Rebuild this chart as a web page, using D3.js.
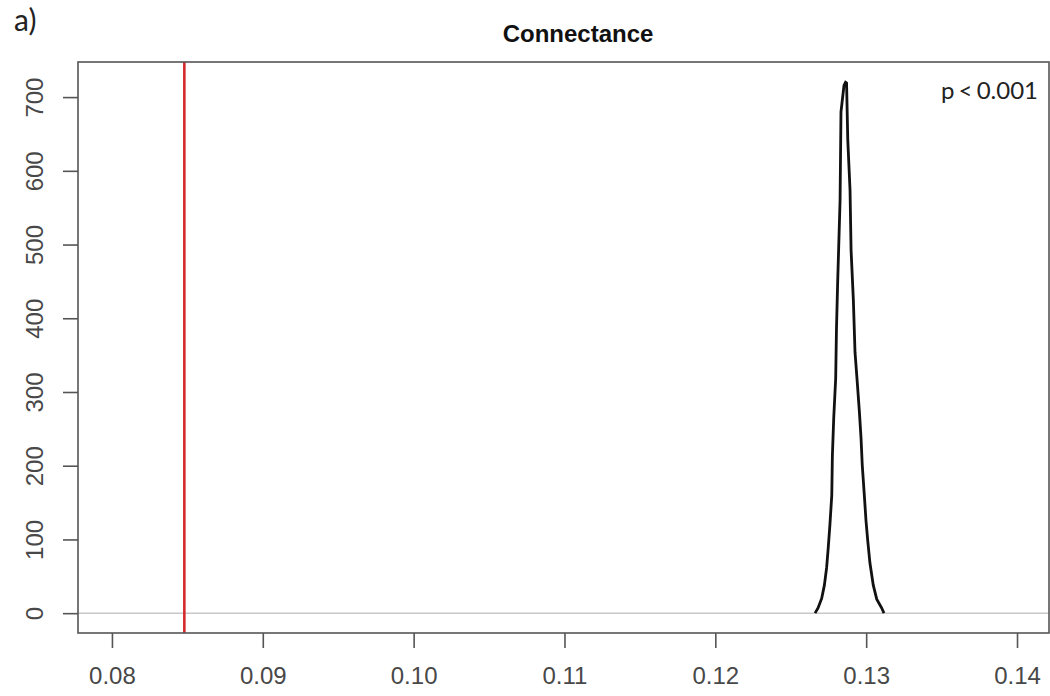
<!DOCTYPE html>
<html>
<head>
<meta charset="utf-8">
<script src="https://cdn.jsdelivr.net/npm/d3@7"></script>
<style>
  html, body { margin: 0; padding: 0; background: #fff; }
  svg { display: block; }
</style>
</head>
<body>
<svg id="chart" width="1050" height="696"></svg>
<script>
// Null distribution of connectance (density, scaled) and observed value
const nullConnectance = [
  0.12661, 0.12681, 0.12705, 0.12723, 0.12738, 0.12749, 0.12760, 0.12772,
  0.12776, 0.12785, 0.12798, 0.12803, 0.12811, 0.12827, 0.12833, 0.12853,
  0.12863, 0.12870, 0.12878, 0.12893, 0.12900, 0.12915, 0.12926, 0.12941,
  0.12955, 0.12966, 0.12974, 0.12988, 0.12999, 0.13010, 0.13025, 0.13047,
  0.13070, 0.13103, 0.13118
];
const nullDensity = [
  0, 7, 20, 38, 62, 90, 121, 160,
  214, 265, 319, 384, 449, 560, 680, 716,
  720, 719, 642, 574, 492, 425, 354, 313,
  273, 237, 201, 159, 125, 99, 68, 38,
  19, 7, 0
];
const observedConnectance = 0.0848;
const xTicks = [0.08, 0.09, 0.10, 0.11, 0.12, 0.13, 0.14];
const yTicks = [0, 100, 200, 300, 400, 500, 600, 700];
const titleText = "Connectance";
const panelLabel = "a)";
const pLabel = "p < 0.001";

const svg = d3.select("#chart");
const plot = { left: 78, right: 1049, top: 62, bottom: 633 };

const x = d3.scaleLinear()
  .domain([0.07775, 0.14212])
  .range([plot.left, plot.right]);
const y = d3.scaleLinear()
  .domain([-26.9, 747.6])
  .range([plot.bottom, plot.top]);

const axisColor = "#555";
const labelColor = "#484848";
const axisFont = "'Liberation Sans', Arial, sans-serif";

// zero reference line
svg.append("line")
  .attr("x1", plot.left).attr("x2", plot.right)
  .attr("y1", y(0)).attr("y2", y(0))
  .attr("stroke", "#c8c8c8").attr("stroke-width", 1.5);

// observed value
svg.append("line")
  .attr("x1", x(observedConnectance)).attr("x2", x(observedConnectance))
  .attr("y1", plot.top).attr("y2", plot.bottom)
  .attr("stroke", "#d42a2a").attr("stroke-width", 2.6);

// null distribution curve
const pts = nullConnectance.map((v, i) => [v, nullDensity[i]]);
svg.append("path")
  .datum(pts)
  .attr("fill", "none")
  .attr("stroke", "#111")
  .attr("stroke-width", 2.8)
  .attr("stroke-linejoin", "miter")
  .attr("d", d3.line().x(d => x(d[0])).y(d => y(d[1])));

// plot frame
svg.append("rect")
  .attr("x", plot.left).attr("y", plot.top)
  .attr("width", plot.right - plot.left).attr("height", plot.bottom - plot.top)
  .attr("fill", "none").attr("stroke", axisColor).attr("stroke-width", 1.6);

// x axis
const xAxis = d3.axisBottom(x)
  .tickValues(xTicks)
  .tickFormat(d3.format(".2f"))
  .tickSize(15)
  .tickPadding(19)
  .tickSizeOuter(0);
const gx = svg.append("g")
  .attr("transform", `translate(0,${plot.bottom})`)
  .call(xAxis);
gx.select(".domain").remove();
gx.selectAll(".tick line").attr("stroke", axisColor).attr("stroke-width", 1.6);
gx.selectAll(".tick text")
  .attr("fill", labelColor)
  .style("font-family", axisFont)
  .style("font-size", "24px");

// y axis
const yAxis = d3.axisLeft(y)
  .tickValues(yTicks)
  .tickSize(15)
  .tickSizeOuter(0);
const gy = svg.append("g")
  .attr("transform", `translate(${plot.left},0)`)
  .call(yAxis);
gy.select(".domain").remove();
gy.selectAll(".tick line").attr("stroke", axisColor).attr("stroke-width", 1.6);
gy.selectAll(".tick text")
  .attr("fill", labelColor)
  .attr("x", 0).attr("y", 0).attr("dy", 0)
  .attr("text-anchor", "middle")
  .attr("transform", "translate(-35,0) rotate(-90)")
  .style("font-family", axisFont)
  .style("font-size", "24px");

// title
svg.append("text")
  .attr("x", 578).attr("y", 42)
  .attr("text-anchor", "middle")
  .attr("fill", "#111")
  .style("font-family", axisFont)
  .style("font-weight", "bold")
  .style("font-size", "24px")
  .text(titleText);

// panel label
svg.append("text")
  .attr("x", 14).attr("y", 31)
  .attr("fill", "#222")
  .style("font-family", "Lato, 'Open Sans', sans-serif")
  .style("font-size", "30px")
  .text(panelLabel);

// significance note
svg.append("text")
  .attr("x", 1038).attr("y", 99)
  .attr("text-anchor", "end")
  .attr("fill", "#222")
  .style("font-family", "Lato, 'Open Sans', sans-serif")
  .style("font-size", "24px")
  .style("word-spacing", "-2px")
  .text(pLabel);
</script>
</body>
</html>
